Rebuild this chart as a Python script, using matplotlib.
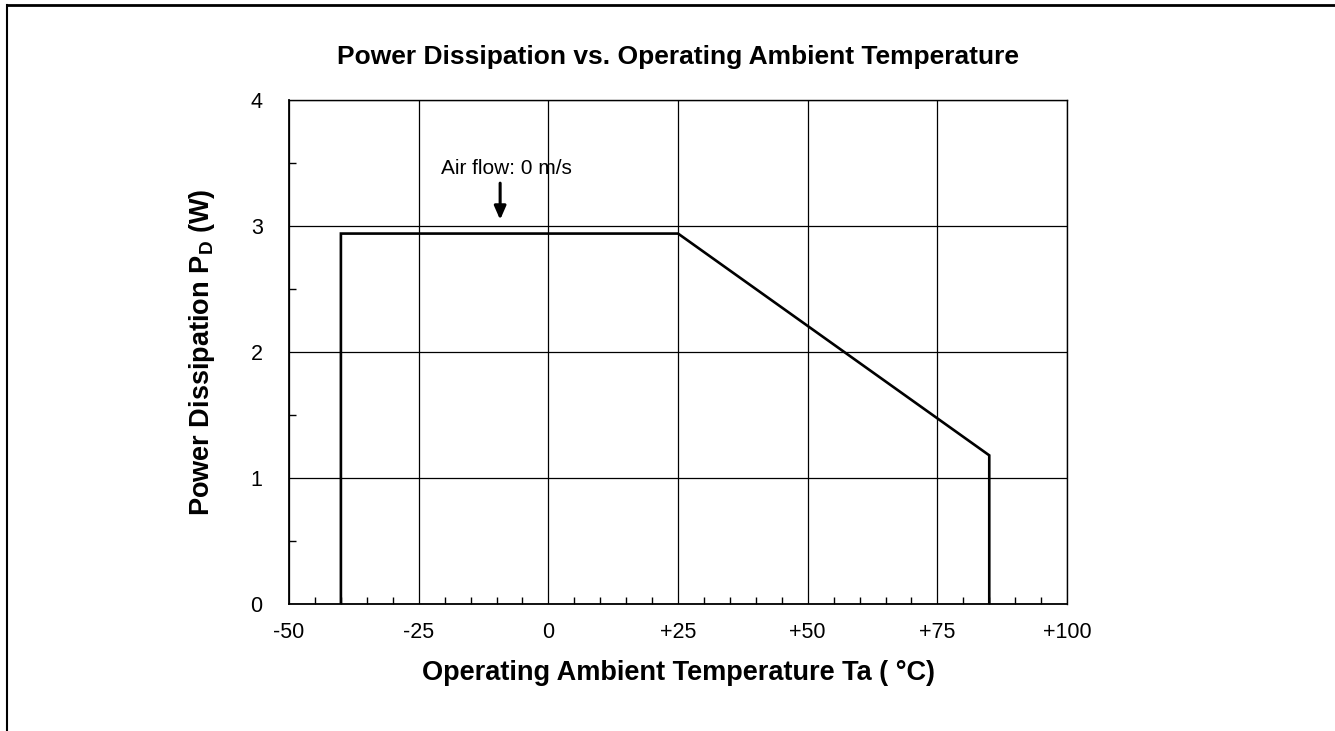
import matplotlib
matplotlib.use("Agg")
import matplotlib.pyplot as plt
from matplotlib.lines import Line2D
from matplotlib.ticker import MultipleLocator

plt.rcParams['font.family'] = ['Liberation Sans', 'DejaVu Sans']
plt.rcParams['mathtext.fontset'] = 'custom'
plt.rcParams['mathtext.bf'] = 'Liberation Sans:bold'
plt.rcParams['mathtext.rm'] = 'Liberation Sans'

# Data
temp = [-40, -40, 25, 85, 85]
power = [0, 2.94, 2.94, 1.18, 0]
xticks = [-50, -25, 0, 25, 50, 75, 100]
xticklabels = ["-50", "-25", "0", "+25", "+50", "+75", "+100"]
yticks = [0, 1, 2, 3, 4]
yticklabels = ["0", "1", "2", "3", "4"]

fig = plt.figure(figsize=(13.35, 7.31), dpi=100)
ax = fig.add_axes([0.2165, 0.1737, 0.5828, 0.6895])

ax.plot(temp, power, color='black', lw=1.9, solid_joinstyle='miter', zorder=3)

ax.set_xlim(-50, 100)
ax.set_ylim(0, 4)
ax.set_xticks(xticks)
ax.set_xticklabels(xticklabels)
ax.set_yticks(yticks)
ax.set_yticklabels(yticklabels)
ax.xaxis.set_minor_locator(MultipleLocator(5))
ax.yaxis.set_minor_locator(MultipleLocator(0.5))
ax.tick_params(which='both', direction='in', top=False, right=False,
               labelsize=15.5, colors='black')
ax.tick_params(which='major', length=0, pad=19)
ax.tick_params(axis='x', which='major', pad=13)
ax.tick_params(which='minor', length=5, width=1)
ax.grid(True, which='major', color='black', lw=0.9)
for s in ax.spines.values():
    s.set_color('black')
    s.set_linewidth(1.0)
ax.spines['left'].set_linewidth(1.3)
ax.spines['bottom'].set_linewidth(1.3)

ax.set_title("Power Dissipation vs. Operating Ambient Temperature",
             fontsize=19, fontweight='bold', pad=26)
ax.set_xlabel("Operating Ambient Temperature Ta ( °C)", fontsize=19.5,
              fontweight='bold', labelpad=12)
ax.set_ylabel(r"Power Dissipation P$_\mathbf{D}$ (W)", fontsize=19.5,
              fontweight='bold', labelpad=24)

ax.annotate("", xy=(-9.3, 3.05), xytext=(-9.3, 3.34),
            arrowprops=dict(arrowstyle='-|>,head_length=0.8,head_width=0.35',
                            color='black', lw=2.2, shrinkA=0, shrinkB=0))
ax.text(-8, 3.46, "Air flow: 0 m/s", fontsize=15, ha='center', va='center')

# Frame lines (left and top of outer box)
fig.add_artist(Line2D([0.0055, 0.0055], [0, 0.9935], transform=fig.transFigure,
                      color='black', lw=1.5))
fig.add_artist(Line2D([0.0055, 1.0], [0.9935, 0.9935], transform=fig.transFigure,
                      color='black', lw=2.0))

fig.savefig("out.png", dpi=100)
